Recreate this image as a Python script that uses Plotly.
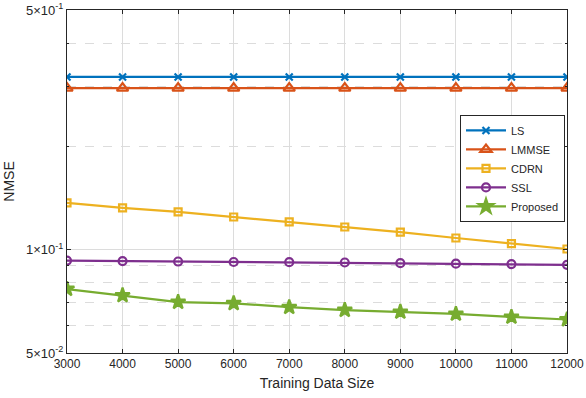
import plotly.graph_objects as go

# Training data size (x axis)
train_size = [3000, 4000, 5000, 6000, 7000, 8000, 9000, 10000, 11000, 12000]
x_ticktext = [str(v) for v in train_size]

# NMSE per method
nmse_ls = [0.319, 0.319, 0.319, 0.319, 0.319, 0.319, 0.319, 0.319, 0.319, 0.319]
nmse_lmmse = [0.296, 0.296, 0.296, 0.296, 0.296, 0.296, 0.296, 0.296, 0.296, 0.296]
nmse_cdrn = [0.137, 0.1324, 0.1289, 0.1246, 0.1205, 0.1165, 0.1125, 0.1082, 0.1042, 0.1005]
nmse_ssl = [0.0930, 0.0927, 0.0924, 0.0921, 0.0920, 0.0918, 0.0914, 0.0911, 0.0908, 0.0904]
nmse_prop = [0.0768, 0.0736, 0.0704, 0.0698, 0.0680, 0.0667, 0.0659, 0.0650, 0.0637, 0.0626]

y_tickvals = [0.05, 0.1, 0.5]
y_ticktext = ["5×10<sup>-2</sup>", "1×10<sup>-1</sup>", "5×10<sup>-1</sup>"]
y_minorvals = [0.06, 0.07, 0.08, 0.09, 0.2, 0.3, 0.4]

series = [
    ("LS", nmse_ls, "#0072BD", "x-thin-open", 7),
    ("LMMSE", nmse_lmmse, "#D95319", "triangle-up-open", 10),
    ("CDRN", nmse_cdrn, "#EDB120", "square-open", 7),
    ("SSL", nmse_ssl, "#7E2F8E", "circle-open", 8),
    ("Proposed", nmse_prop, "#77AC30", "star", 11),
]

fig = go.Figure()
for name, vals, col, sym, sz in series:
    fig.add_trace(go.Scatter(
        x=train_size, y=vals, name=name, mode="lines+markers",
        line=dict(color=col, width=2.2),
        marker=dict(symbol=sym, size=sz, color=col, line=dict(color=col, width=2.2)),
    ))

fig.update_layout(
    width=586, height=398,
    margin=dict(l=67, r=19, t=10, b=45),
    paper_bgcolor="white", plot_bgcolor="white",
    font=dict(family="Arial", size=12, color="#262626"),
    legend=dict(x=0.996, y=0.694, xanchor="right", yanchor="top",
                bordercolor="#262626", borderwidth=1, bgcolor="white",
                font=dict(size=11), tracegroupgap=0, itemwidth=40),
    showlegend=True,
)
fig.update_xaxes(
    title=dict(text="Training Data Size", standoff=7),
    range=[3000, 12000], tickvals=train_size, ticktext=x_ticktext,
    automargin=False,
    showgrid=True, gridcolor="#dcdcdc", gridwidth=1,
    showline=True, linecolor="#262626", mirror="ticks",
    ticks="inside", ticklen=4, tickcolor="#262626", zeroline=False,
)
fig.update_yaxes(
    title=dict(text="NMSE", standoff=8),
    type="log", range=[-1.30103, -0.30103],
    tickvals=y_tickvals, ticktext=y_ticktext, tickfont=dict(size=13),
    automargin=False,
    showgrid=True, gridcolor="#dcdcdc", gridwidth=1,
    showline=True, linecolor="#262626", mirror="ticks",
    ticks="inside", ticklen=4, tickcolor="#262626", zeroline=False,
    minor=dict(tickmode="array", tickvals=y_minorvals, showgrid=True,
               gridcolor="#dcdcdc", griddash="dash", ticks="inside",
               ticklen=2, tickcolor="#262626"),
)

# drop the browser's default body margin so the figure sits at (0,0)
fig.write_html("out.html", config={"displayModeBar": False},
               post_script="document.body.style.margin='0';")
